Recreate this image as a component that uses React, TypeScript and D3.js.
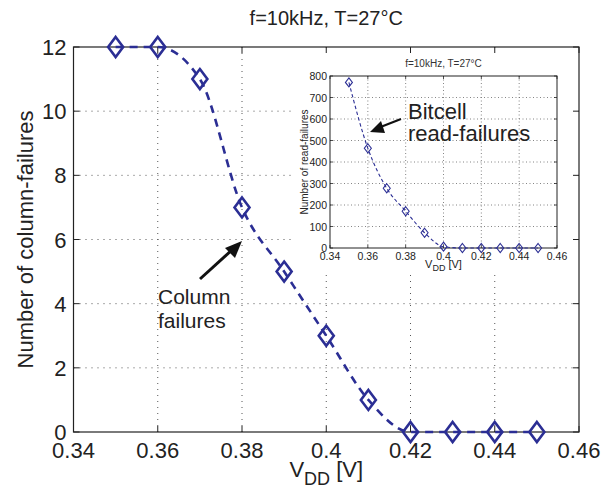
import React from "react";
import * as d3 from "d3";

// supply voltage sweep
const vdd = [0.35, 0.36, 0.37, 0.38, 0.39, 0.4, 0.41, 0.42, 0.43, 0.44, 0.45];
const columnFailures = [12, 12, 11, 7, 5, 3, 1, 0, 0, 0, 0];
const readFailures = [770, 464, 278, 171, 71, 6, 0, 0, 0, 0, 0];

const xTicks = [0.34, 0.36, 0.38, 0.4, 0.42, 0.44, 0.46];
const yTicksMain = [0, 2, 4, 6, 8, 10, 12];
const yTicksInset = [0, 100, 200, 300, 400, 500, 600, 700, 800];

const titleText = "f=10kHz, T=27\u00b0C";
const blue = "#2b2e94";
const font = "'Liberation Sans', Arial, sans-serif";

const diamond = (x: number, y: number, w: number, h: number) =>
  `M${x},${y - h}L${x + w},${y}L${x},${y + h}L${x - w},${y}Z`;

const App = () => {
  const W = 615;
  const H = 487;

  // main axes
  const m = { left: 73.5, right: 579, top: 47, bottom: 432 };
  const x = d3.scaleLinear().domain([0.34, 0.46]).range([m.left, m.right]);
  const y = d3.scaleLinear().domain([0, 12]).range([m.bottom, m.top]);
  const fmt = d3.format("~g");

  const line = d3
    .line<number>()
    .x((_, i) => x(vdd[i]))
    .y((d) => y(d))
    .curve(d3.curveMonotoneX);

  // inset axes
  const ins = { left: 330, right: 557, top: 76, bottom: 248 };
  const xi = d3.scaleLinear().domain([0.34, 0.46]).range([ins.left, ins.right]);
  const yi = d3.scaleLinear().domain([0, 800]).range([ins.bottom, ins.top]);
  const lineI = d3
    .line<number>()
    .x((_, i) => xi(vdd[i]))
    .y((d) => yi(d))
    .curve(d3.curveMonotoneX);

  const ax = "#222";

  return (
    <svg
      width={W}
      height={H}
      style={{ position: "absolute", left: 0, top: 0, background: "#fff" }}
      fontFamily={font}
    >
      {/* main grid */}
      <g stroke="#555" strokeWidth={1} strokeDasharray="1,5">
        {xTicks.slice(1, -1).map((t) => (
          <line key={"gx" + t} x1={x(t)} x2={x(t)} y1={m.top} y2={m.bottom} />
        ))}
        {yTicksMain.slice(1, -1).map((t) => (
          <line key={"gy" + t} x1={m.left} x2={m.right} y1={y(t)} y2={y(t)} />
        ))}
      </g>

      {/* white panel behind inset */}
      <rect x={293} y={m.top + 1} width={m.right - 293 - 1} height={273 - m.top} fill="#fff" />

      {/* main box and ticks */}
      <rect
        x={m.left}
        y={m.top}
        width={m.right - m.left}
        height={m.bottom - m.top}
        fill="none"
        stroke={ax}
        strokeWidth={1.2}
      />
      <g stroke={ax} strokeWidth={1}>
        {xTicks.map((t) => (
          <g key={"tx" + t}>
            <line x1={x(t)} x2={x(t)} y1={m.bottom} y2={m.bottom - 6} />
            <line x1={x(t)} x2={x(t)} y1={m.top} y2={m.top + 6} />
          </g>
        ))}
        {yTicksMain.map((t) => (
          <g key={"ty" + t}>
            <line x1={m.left} x2={m.left + 6} y1={y(t)} y2={y(t)} />
            <line x1={m.right} x2={m.right - 6} y1={y(t)} y2={y(t)} />
          </g>
        ))}
      </g>
      <g fontSize={22} fill="#222">
        {xTicks.map((t) => (
          <text key={"lx" + t} x={x(t)} y={m.bottom + 26} textAnchor="middle">
            {fmt(t)}
          </text>
        ))}
        {yTicksMain.map((t) => (
          <text key={"ly" + t} x={m.left - 7} y={y(t) + 8} textAnchor="end">
            {t}
          </text>
        ))}
      </g>
      <text x={(m.left + m.right) / 2} y={25} textAnchor="middle" fontSize={20} fill="#222">
        {titleText}
      </text>
      <text
        transform={`translate(33,${(m.top + m.bottom) / 2}) rotate(-90)`}
        textAnchor="middle"
        fontSize={22}
        fill="#222"
      >
        Number of column-failures
      </text>
      <text x={(m.left + m.right) / 2} y={477} textAnchor="middle" fontSize={22} fill="#222">
        V<tspan fontSize={18} dy={8}>DD</tspan>
        <tspan dy={-8}> [V]</tspan>
      </text>

      {/* main series */}
      <path
        d={line(columnFailures) || ""}
        fill="none"
        stroke={blue}
        strokeWidth={2.6}
        strokeDasharray="8,6"
      />
      {columnFailures.map((v, i) => (
        <path
          key={"mk" + i}
          d={diamond(x(vdd[i]), y(v), 7.5, 10)}
          fill="none"
          stroke={blue}
          strokeWidth={2.6}
        />
      ))}

      {/* column failures annotation */}
      <text fontSize={21} fill="#222">
        <tspan x={158} y={304}>Column</tspan>
        <tspan x={158} y={328}>failures</tspan>
      </text>
      <line x1={200} y1={279} x2={233} y2={249} stroke="#111" strokeWidth={3} />
      <path d="M242,241 L225,248 L235,258 Z" fill="#111" />

      {/* inset */}
      <g stroke="#666" strokeWidth={0.8} strokeDasharray="1,2.5">
        {xTicks.slice(1, -1).map((t) => (
          <line key={"igx" + t} x1={xi(t)} x2={xi(t)} y1={ins.top} y2={ins.bottom} />
        ))}
        {yTicksInset.slice(1, -1).map((t) => (
          <line key={"igy" + t} x1={ins.left} x2={ins.right} y1={yi(t)} y2={yi(t)} />
        ))}
      </g>
      <rect
        x={ins.left}
        y={ins.top}
        width={ins.right - ins.left}
        height={ins.bottom - ins.top}
        fill="none"
        stroke={ax}
        strokeWidth={1}
      />
      <g stroke={ax} strokeWidth={0.8}>
        {xTicks.map((t) => (
          <g key={"itx" + t}>
            <line x1={xi(t)} x2={xi(t)} y1={ins.bottom} y2={ins.bottom - 3} />
            <line x1={xi(t)} x2={xi(t)} y1={ins.top} y2={ins.top + 3} />
          </g>
        ))}
        {yTicksInset.map((t) => (
          <g key={"ity" + t}>
            <line x1={ins.left} x2={ins.left + 3} y1={yi(t)} y2={yi(t)} />
            <line x1={ins.right} x2={ins.right - 3} y1={yi(t)} y2={yi(t)} />
          </g>
        ))}
      </g>
      <g fontSize={10.5} fill="#222">
        {xTicks.map((t) => (
          <text key={"ilx" + t} x={xi(t)} y={ins.bottom + 12} textAnchor="middle">
            {fmt(t)}
          </text>
        ))}
        {yTicksInset.map((t) => (
          <text key={"ily" + t} x={ins.left - 3} y={yi(t) + 4} textAnchor="end">
            {t}
          </text>
        ))}
      </g>
      <text x={(ins.left + ins.right) / 2} y={67} textAnchor="middle" fontSize={10} fill="#333">
        {titleText}
      </text>
      <text
        transform={`translate(308,${(ins.top + ins.bottom) / 2}) rotate(-90)`}
        textAnchor="middle"
        fontSize={10}
        fill="#222"
      >
        Number of read-failures
      </text>
      <text x={(ins.left + ins.right) / 2} y={268} textAnchor="middle" fontSize={11} fill="#222">
        V<tspan fontSize={9} dy={3}>DD</tspan>
        <tspan dy={-3}> [V]</tspan>
      </text>
      <path
        d={lineI(readFailures) || ""}
        fill="none"
        stroke={blue}
        strokeWidth={1.1}
        strokeDasharray="3.5,2.5"
      />
      {readFailures.map((v, i) => (
        <path
          key={"imk" + i}
          d={diamond(xi(vdd[i]), yi(v), 3.5, 4.5)}
          fill="none"
          stroke={blue}
          strokeWidth={1.1}
        />
      ))}

      {/* bitcell annotation */}
      <text fontSize={22} fill="#222">
        <tspan x={408} y={119}>Bitcell</tspan>
        <tspan x={408} y={141}>read-failures</tspan>
      </text>
      <line x1={401} y1={119} x2={378} y2={128} stroke="#111" strokeWidth={2.2} />
      <path d="M370,132 L381,121 L385,133 Z" fill="#111" />
    </svg>
  );
};

export default App;
